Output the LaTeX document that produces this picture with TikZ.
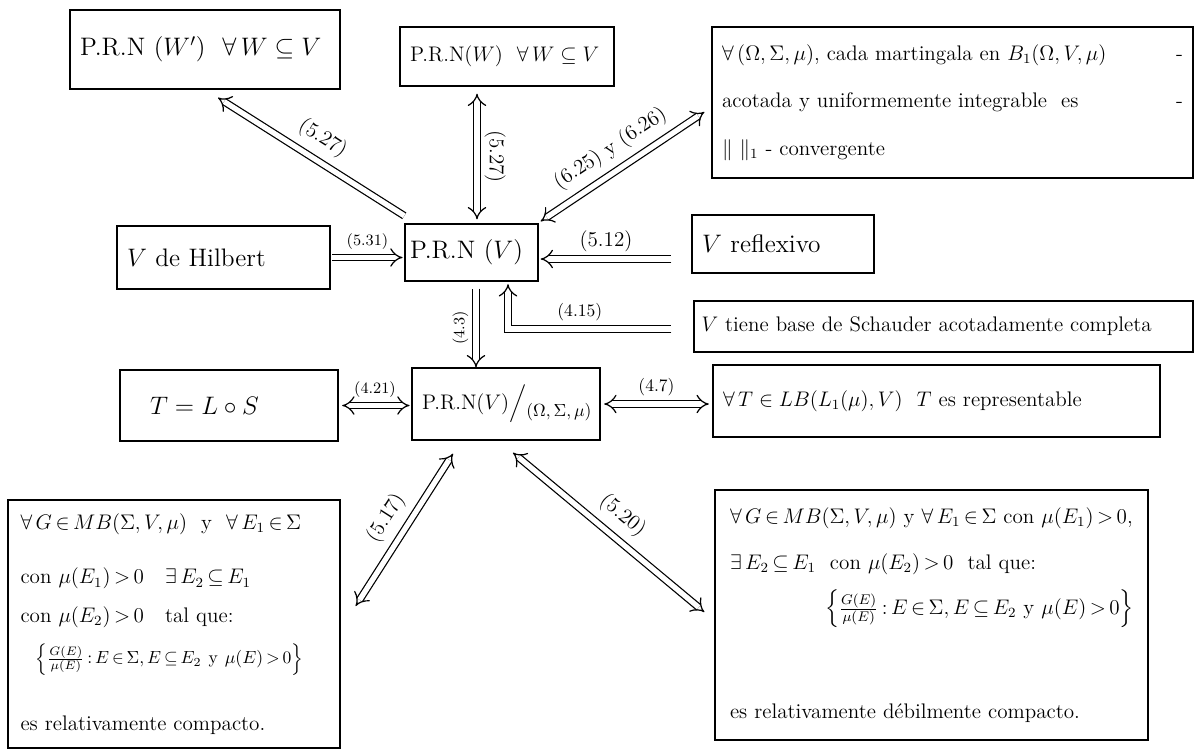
\documentclass[tikz,border=0pt]{standalone}
\usepackage{amsmath}
\usepackage{amssymb}
\usetikzlibrary{positioning,arrows.meta}

\newcommand{\tightmath}{\thickmuskip=3mu\relax\medmuskip=2mu\relax}

\begin{document}
\begin{tikzpicture}[
    box/.style={rectangle, draw, line width=0.8pt, inner xsep=0.2cm, inner ysep=2pt, align=left, font=\large},
    imp/.style={double, double distance=3pt, line width=0.7pt, -{Implies}},
    dimp/.style={imp, {Implies}-{Implies}},
    lbl/.style={font=\normalsize, inner sep=4pt}
]
\useasboundingbox (0,0) rectangle (23.94,-15);

% Top row
\node[box, text width=5.0cm, minimum height=1.58cm, font=\Large] (prnwp) at (4.10,-0.99) {P.R.N ($W'$) \ $\forall\, W\subseteq V$};
\node[box, text width=3.88cm, minimum height=1.18cm] (prnw) at (10.14,-1.13) {P.R.N($W$) \ $\forall\, W\subseteq V$};
\node[box, text width=9.22cm, minimum height=3.02cm] (mart) at (19.05,-2.05) {$\forall\,(\Omega,\Sigma,\mu)$, cada martingala en $B_1(\Omega,V,\mu)$ \hfill -\\[13pt]
  acotada y uniformemente integrable \ es \hfill -\\[13pt]
  $\|\ \|_1$ - convergente};

% Middle rows
\node[box, text width=3.86cm, minimum height=1.26cm, font=\Large] (hilbert) at (4.47,-5.15) {$V$ de Hilbert};
\node[box, text width=2.46cm, minimum height=1.14cm, inner xsep=0.1cm, font=\Large] (prnv) at (9.43,-5.05) {P.R.N ($V$)};
\node[box, text width=3.24cm, minimum height=1.16cm, font=\Large] (reflex) at (15.66,-4.88) {$V$ reflexivo};
\node[box, text width=9.68cm, minimum height=1.02cm, inner xsep=0.15cm] (schauder) at (18.87,-6.53) {$V$ tiene base de Schauder acotadamente completa};

\node[box, text width=3.96cm, minimum height=1.42cm, font=\Large] (tls) at (4.58,-8.11) {\hspace*{0.4cm}$T = L\circ S$};
\node[box, text width=3.36cm, minimum height=1.44cm] (prnq) at (10.12,-8.08) {P.R.N($V$)$\Big/$\raisebox{-0.8ex}{\normalsize$(\Omega,\Sigma,\mu)$}};
\node[box, text width=8.54cm, minimum height=1.44cm] (repr) at (18.73,-8.02) {$\forall\, T\in LB(L_1(\mu),V)$ \ $T$ es representable};

% Bottom row
\node[box, text width=6.14cm, minimum height=4.96cm, inner xsep=0.25cm] (compl) at (3.48,-12.48) {\tightmath$\forall\, G\in MB(\Sigma,V,\mu)$ \ y \ $\forall\, E_1\in\Sigma$\\[17pt]
  con $\mu(E_1)>0$ \ \ $\exists\, E_2\subseteq E_1$\\[8pt]
  con $\mu(E_2)>0$ \ \ tal que:\\[8pt]
  \hspace*{0.3cm}{\normalsize$\left\{\frac{G(E)}{\mu(E)} : E\in\Sigma, E\subseteq E_2 \text{ y } \mu(E)>0\right\}$}\\[22pt]
  es relativamente compacto.};
\node[box, text width=8.06cm, minimum height=5.0cm, inner xsep=0.3cm] (compr) at (18.63,-12.3) {\tightmath$\forall\, G\in MB(\Sigma,V,\mu)$ y $\forall\, E_1\in\Sigma$ con $\mu(E_1)>0$,\\[12pt]
  $\exists\, E_2\subseteq E_1$ \ con $\mu(E_2)>0$ \ tal que:\\[8pt]
  \hspace*{1.9cm}$\left\{\frac{G(E)}{\mu(E)} : E\in\Sigma, E\subseteq E_2 \text{ y } \mu(E)>0\right\}$\\[42pt]
  es relativamente d\'ebilmente compacto.};

% Arrows
\draw[imp] ([yshift=0.15cm]prnv.north west) -- ([shift={(0.26,-0.16)}]prnwp.south) node[lbl, midway, above=2pt, sloped, font=\large] {(5.27)};
\draw[dimp] ([shift={(0.11,0.08)}]prnv.north) coordinate (v0) -- ([yshift=-0.14cm]v0 |- prnw.south) node[lbl, midway, anchor=south, rotate=-90, font=\large] {(5.27)};
\draw[dimp] ([shift={(0.04,0.04)}]prnv.north east) -- ([shift={(-0.14,-0.19)}]mart.west) node[lbl, midway, above=2pt, sloped, font=\large] {(6.25) y (6.26)};
\draw[imp, shorten <=1pt, shorten >=1pt] (hilbert.east) -- (hilbert.east -| prnv.west) node[lbl, midway, above, font=\small] {(5.31)};
\draw[imp] ([shift={(-0.4,-0.3)}]reflex.west) coordinate (r0) -- ([xshift=0.04cm]r0 -| prnv.east) node[lbl, midway, above, font=\large] {(5.12)};
\draw[imp] ([shift={(-0.44,-0.05)}]schauder.west) -| ([shift={(0.73,-0.05)}]prnv.south) node[lbl, pos=0.28, above] {(4.15)};
\draw[imp] ([shift={(0.09,-0.14)}]prnv.south) coordinate (d0) -- (d0 |- prnq.north) node[lbl, midway, anchor=south, rotate=90, font=\small] {(4.3)};
\draw[dimp, shorten <=2pt, shorten >=1pt] (tls.east) -- (tls.east -| prnq.west) node[lbl, midway, above, font=\small] {(4.21)};
\draw[dimp, shorten <=2pt, shorten >=2pt] (prnq.east) -- (prnq.east -| repr.west) node[lbl, midway, above] {(4.7)};
\draw[dimp] ([shift={(-1.06,-0.26)}]prnq.south) -- ([shift={(0.30,0.36)}]compl.east) node[lbl, midway, above=2pt, sloped, font=\large] {(5.17)};
\draw[dimp] ([shift={(0.14,-0.24)}]prnq.south) -- ([shift={(-0.2,0.06)}]compr.west) node[lbl, midway, above=2pt, sloped, font=\large] {(5.20)};

\end{tikzpicture}
\end{document}
